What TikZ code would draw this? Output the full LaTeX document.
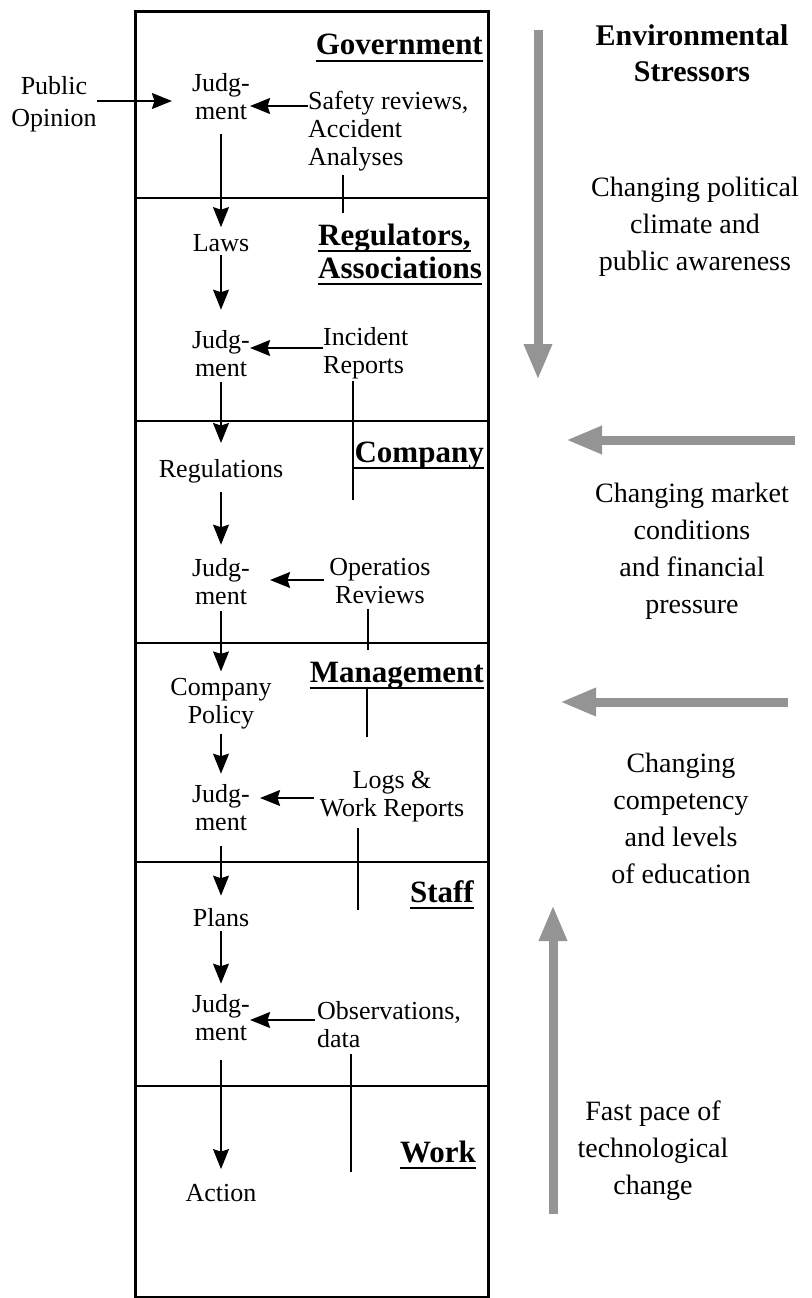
\documentclass[tikz,border=0pt]{standalone}
\usepackage{fontspec}
\setmainfont{Liberation Serif}
\usetikzlibrary{arrows.meta,calc}

\tikzset{
  flow/.style={line width=1.3pt, -{Stealth[length=20pt,width=16pt,inset=2.5pt]}},
  fb/.style={line width=1.3pt},
  layer/.style={line width=1.6pt},
  stress/.style={line width=9pt, draw=black!42, -{Triangle[length=36pt,width=26pt]}}
}

\begin{document}
\begin{tikzpicture}[x=1pt,y=-1pt]
    \useasboundingbox (0,0) rectangle (811,1298);
    % frame and layers
    \draw[line width=3pt] (135,12) rectangle (488,1297.5);
    \foreach \yy in {198,421,643,862,1086}
        \draw[layer] (135,\yy) -- (488,\yy);

    \begin{scope}[every node/.style={inner sep=0pt, align=center, font=\fontsize{26}{28}\selectfont}]
        \node (po) [font=\fontsize{26}{32}\selectfont] at (54,104) {Public\\Opinion};
        \node (judg1) at (221,97) {Judg-\\ment};
        \node (laws) at (221,243) {Laws};
        \node (judg2) at (221,354) {Judg-\\ment};
        \node (regs) at (221,471) {Regulations};
        \node (judg3) at (221,582) {Judg-\\ment};
        \node (cpol) at (221,704) {Company\\Policy};
        \node (judg4) at (221,808) {Judg-\\ment};
        \node (plans) at (221,918) {Plans};
        \node (judg5) at (221,1018) {Judg-\\ment};
        \node (action) at (221,1193) {Action};
        \node (safety) [anchor=west, align=left] at (308,131) {Safety reviews,\\Accident\\Analyses};
        \node (incident) [anchor=west, align=left] at (323,353) {Incident\\Reports};
        \node (opsrev) at (380,581) {Operatios\\Reviews};
        \node (logs) at (392,797) {Logs \&\\Work Reports};
        \node (obs) [anchor=west, align=left] at (317,1025) {Observations,\\data};
    \end{scope}

    \begin{scope}[every node/.style={inner sep=0pt, font=\fontsize{31}{33}\selectfont\bfseries}]
        \node (gov) [anchor=base east] at (483,55) {Government};
        \node (regl1) [anchor=base west] at (318,245) {Regulators,};
        \node (regl2) [anchor=base west] at (318,278) {Associations};
        \node (comp) [anchor=base east] at (484,462) {Company};
        \node (mgmt) [anchor=base east] at (484,682) {Management};
        \node (staff) [anchor=base east] at (474,902) {Staff};
        \node (work) [anchor=base east] at (476,1162) {Work};
    \end{scope}
    \foreach \n in {gov,regl1,regl2,comp,mgmt,staff,work}
        \draw[layer] ([yshift=-6pt]\n.base west) -- ([yshift=-6pt]\n.base east);

    \begin{scope}[every node/.style={inner sep=0pt, align=center, font=\fontsize{28}{37}\selectfont}]
        \node (env) [font=\fontsize{30}{36}\selectfont\bfseries] at (692,53) {Environmental\\Stressors};
        \node (pol) at (695,227) {Changing political\\climate and\\public awareness};
        \node (mkt) at (692,551) {Changing market\\conditions\\and financial\\pressure};
        \node (edu) at (681,818) {Changing\\competency\\and levels\\of education};
        \node (tech) at (653,1151) {Fast pace of\\technological\\change};
    \end{scope}

    % decisions flowing down
    \begin{scope}[every edge/.style={draw, flow}]
        \path (judg1.south) edge[shorten <=14pt, shorten >=7pt] (laws.north);
        \path (laws.south) edge[shorten <=3pt, shorten >=21pt] (judg2.north);
        \path (judg2.south) edge[shorten <=5pt, shorten >=16pt] (regs.north);
        \path (regs.south) edge[shorten <=9pt, shorten >=14pt] (judg3.north);
        \path (judg3.south) edge[shorten <=6pt, shorten >=7pt] (cpol.north);
        \path (cpol.south) edge[shorten <=4pt, shorten >=11pt] (judg4.north);
        \path (judg4.south) edge[shorten <=15pt, shorten >=13pt] (plans.north);
        \path (plans.south) edge[shorten <=4pt, shorten >=11pt] (judg5.north);
        \path (judg5.south) edge[shorten <=19pt, shorten >=15pt] (action.north);
    \end{scope}

    % inputs to judgment
    \coordinate (in0) at ($(judg1.west)+(0,4)$);
    \coordinate (in1) at ($(judg1.east)+(0,9)$);
    \coordinate (in2) at ($(judg2.east)+(0,-6)$);
    \coordinate (in3) at ($(judg3.east)+(0,-2)$);
    \coordinate (in4) at ($(judg4.east)+(0,-10)$);
    \coordinate (in5) at ($(judg5.east)+(0,2)$);
    \draw[flow, shorten >=20pt] (po.east |- in0) -- (in0);
    \draw[flow] (in1 -| safety.west) -- (in1);
    \draw[flow] (in2 -| incident.west) -- (in2);
    \draw[flow, shorten >=20pt, shorten <=5pt] (in3 -| opsrev.west) -- (in3);
    \draw[flow, shorten >=10pt, shorten <=6pt] (in4 -| logs.west) -- (in4);
    \draw[flow, shorten <=2pt] (in5 -| obs.west) -- (in5);

    % reports going up
    \coordinate (fb1) at (343,213);
    \coordinate (fb2) at (353,500);
    \coordinate (fb3) at (368,650);
    \coordinate (fb4) at (367,737);
    \coordinate (fb5) at (358,910);
    \coordinate (fb6) at (351,1172);
    \draw[fb, shorten <=4pt] (safety.south -| fb1) -- (fb1);
    \draw[fb, shorten <=2pt] (incident.south -| fb2) -- (fb2);
    \draw[fb, shorten <=5pt] (opsrev.south -| fb3) -- (fb3);
    \draw[fb] (mgmt.south -| fb4) -- (fb4);
    \draw[fb, shorten <=5pt] (logs.south -| fb5) -- (fb5);
    \draw[fb, shorten <=6pt] (obs.south -| fb6) -- (fb6);

    % stressor arrows
    \coordinate (s1a) at (538,30);  \coordinate (s1b) at (538,380);
    \coordinate (s2a) at (795,440); \coordinate (s2b) at (566,440);
    \coordinate (s3a) at (788,702); \coordinate (s3b) at (560,702);
    \coordinate (s4a) at (553,1214); \coordinate (s4b) at (553,905);
    \draw[stress] (s1a) -- (s1b);
    \draw[stress] (s2a) -- (s2b);
    \draw[stress] (s3a) -- (s3b);
    \draw[stress] (s4a) -- (s4b);
\end{tikzpicture}
\end{document}
